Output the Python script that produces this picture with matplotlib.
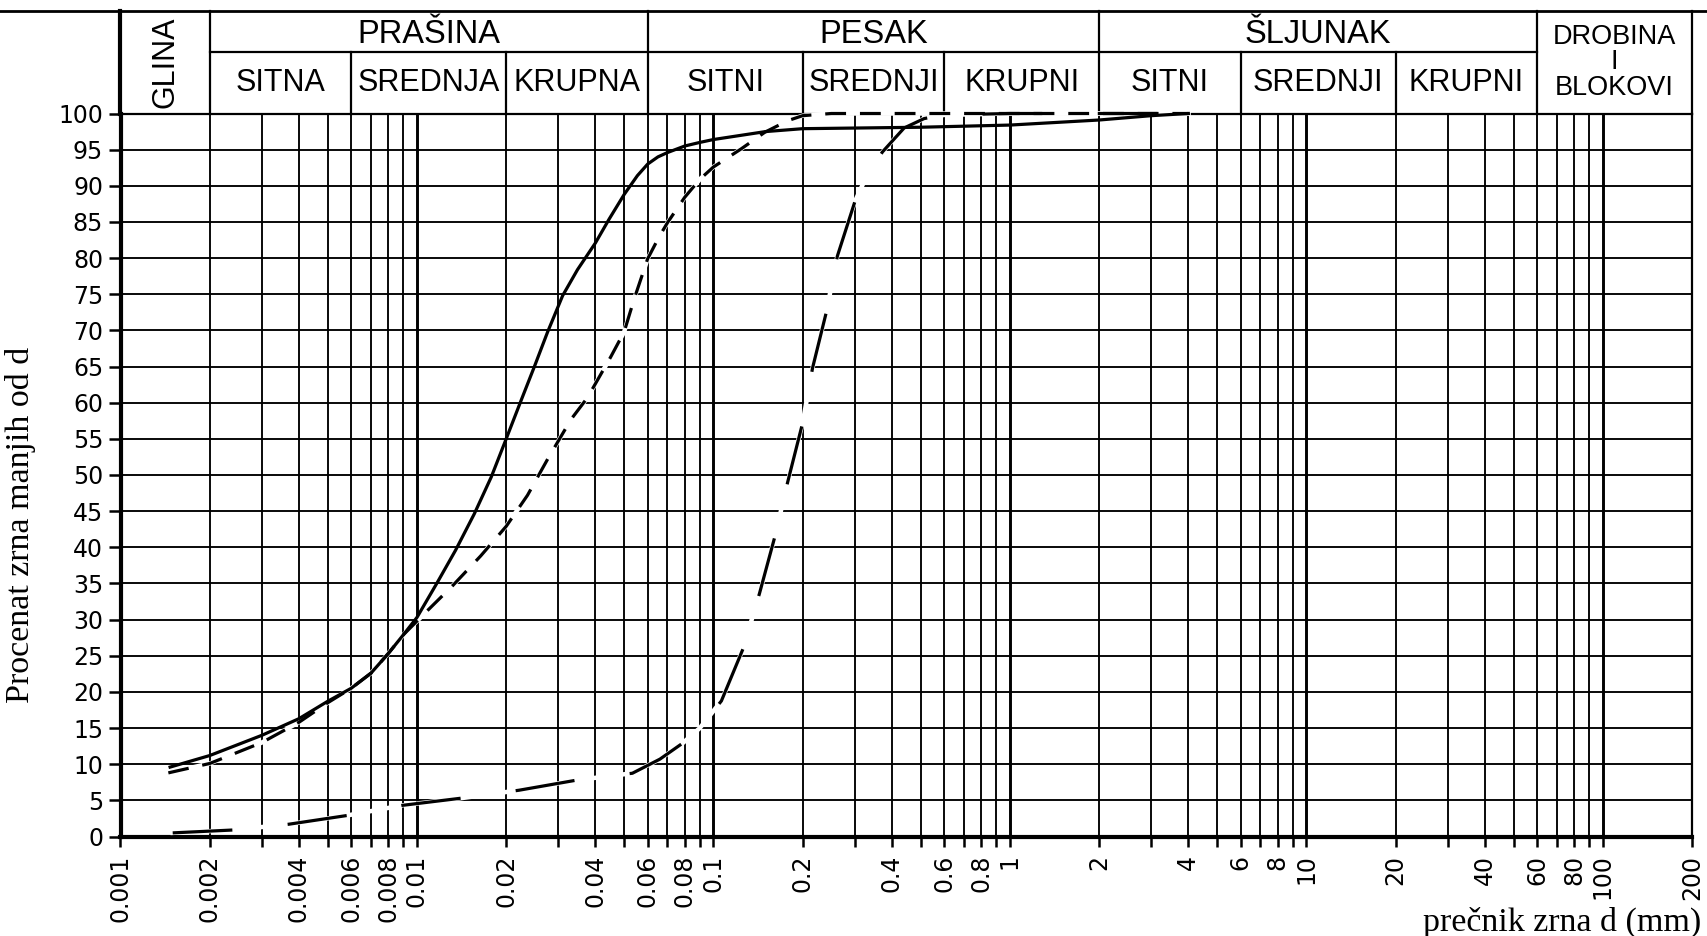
import matplotlib
matplotlib.use("Agg")
import matplotlib.pyplot as plt
from matplotlib.lines import Line2D
import numpy as np

# granulometric curves: grain diameter d (mm) vs percent finer
solid_d = [0.00147, 0.002, 0.003, 0.004, 0.005, 0.006, 0.007, 0.008, 0.009, 0.01,
           0.0117, 0.0135, 0.0156, 0.0178, 0.02, 0.0224, 0.0249, 0.0276, 0.031, 0.0348,
           0.04, 0.0445, 0.05, 0.0554, 0.06, 0.065, 0.07, 0.08, 0.09, 0.1, 0.15, 0.2,
           0.5, 1, 2, 3, 4]
solid_p = [9.6, 11.2, 14.0, 16.3, 18.7, 20.5, 22.6, 25.3, 27.9, 30.3,
           35.1, 39.6, 44.6, 49.7, 55.0, 60.2, 65.0, 69.8, 74.8, 78.4,
           82.1, 85.4, 88.8, 91.4, 93.0, 94.0, 94.6, 95.5, 96.0, 96.4, 97.5, 97.9,
           98.1, 98.4, 99.1, 99.7, 100]

dash_d = [0.00145, 0.002, 0.003, 0.004, 0.005, 0.006, 0.007, 0.008, 0.009, 0.0107,
          0.0132, 0.0164, 0.02, 0.0236, 0.0276, 0.0331, 0.0376, 0.045, 0.05, 0.054,
          0.06, 0.0655, 0.07, 0.08, 0.09, 0.1, 0.124, 0.149, 0.178, 0.2, 0.25, 0.5,
          1, 2, 4]
dash_p = [8.8, 10.1, 13.0, 15.8, 18.5, 20.5, 22.6, 25.3, 27.9, 31.0,
          34.7, 38.8, 42.9, 47.2, 52.2, 57.7, 60.7, 66.3, 69.8, 74.3,
          79.9, 82.9, 84.9, 88.4, 90.9, 92.6, 95.1, 97.4, 99.0, 99.7, 100, 100,
          100, 100, 100]

long_d = [0.0015, 0.0024, 0.0037, 0.0058, 0.0089, 0.0141, 0.0221, 0.0346, 0.0533, 0.066,
          0.0787, 0.09, 0.1064, 0.126, 0.143, 0.161, 0.178, 0.2, 0.216, 0.24,
          0.262, 0.3, 0.33, 0.372, 0.44, 0.514, 0.6, 1, 2, 4]
long_p = [0.5, 0.9, 1.7, 2.9, 4.3, 5.3, 6.4, 7.8, 8.75, 10.7,
          12.9, 15.0, 18.75, 26.0, 33.6, 41.4, 49.0, 57.2, 64.8, 72.4,
          80.3, 87.8, 91.5, 94.7, 98.0, 99.3, 99.8, 100, 100, 100]

# soil classification header
main_groups = [("PRAŠINA", 0.002, 0.06), ("PESAK", 0.06, 2), ("ŠLJUNAK", 2, 60)]
sub_groups = [("SITNA", 0.002, 0.006), ("SREDNJA", 0.006, 0.02), ("KRUPNA", 0.02, 0.06),
              ("SITNI", 0.06, 0.2), ("SREDNJI", 0.2, 0.6), ("KRUPNI", 0.6, 2),
              ("SITNI", 2, 6), ("SREDNJI", 6, 20), ("KRUPNI", 20, 60)]

x_ticks = [m * 10.0 ** e for e in range(-3, 2) for m in range(1, 10)] + [100, 200]
x_labels = ["0.001", "0.002", "0.004", "0.006", "0.008", "0.01", "0.02", "0.04", "0.06",
            "0.08", "0.1", "0.2", "0.4", "0.6", "0.8", "1", "2", "4", "6", "8", "10",
            "20", "40", "60", "80", "100", "200"]

plt.rcParams['lines.scale_dashes'] = False

W, H = 1707, 936
fig = plt.figure(figsize=(W / 100, H / 100), dpi=100)
ax_left, ax_right, ax_top, ax_bot = 120.5, 1692, 113.5, 836.5
ax = fig.add_axes([ax_left / W, (H - ax_bot) / H, (ax_right - ax_left) / W, (ax_bot - ax_top) / H])
ax.set_xscale('log')
ax.set_xlim(0.001, 200)
ax.set_ylim(0, 100)

# grid
for x in x_ticks:
    if x in (0.001, 200):
        continue
    decade = abs(np.log10(x) - round(np.log10(x))) < 1e-9
    ax.axvline(x, color='black', lw=2.1 if decade else 1.35, zorder=1)
for y in range(5, 100, 5):
    ax.axhline(y, color='black', lw=1.35, zorder=1)

# curves: white underlay, then black line
ax.plot(solid_d, solid_p, color='black', lw=2.3, zorder=5, clip_on=False,
        solid_joinstyle='round')
ax.plot(dash_d, dash_p, color='white', lw=3.2, zorder=3, clip_on=False)
ax.plot(dash_d, dash_p, color='black', lw=2.3, zorder=4, clip_on=False,
        dashes=(15, 10), dash_capstyle='butt')
ax.plot(long_d, long_p, color='white', lw=3.2, zorder=3, clip_on=False)
ax.plot(long_d, long_p, color='black', lw=2.3, zorder=4, clip_on=False,
        dashes=(43, 40), dash_capstyle='butt')

# ticks
ax.set_xticks(x_ticks)
ax.set_xticklabels([f"{t:g}" if f"{t:g}" in x_labels else "" for t in x_ticks],
                   rotation=90, fontsize=17, family='DejaVu Sans')
ax.xaxis.set_minor_locator(matplotlib.ticker.NullLocator())
ax.set_yticks(range(0, 101, 5))
ax.set_yticklabels([str(v) for v in range(0, 101, 5)], fontsize=17, family='DejaVu Sans')
ax.tick_params(axis='x', direction='out', length=7, width=1.8, pad=6)
ax.tick_params(axis='y', direction='out', length=8.5, width=1.8, pad=4)

ax.spines['left'].set_linewidth(3.0)
ax.spines['bottom'].set_linewidth(3.0)
ax.spines['top'].set_linewidth(1.6)
ax.spines['right'].set_linewidth(1.6)

# header table above the plot
trans = ax.get_xaxis_transform()
hdr_top = 1 + (ax_top - 11) / (ax_bot - ax_top)
hdr_mid = 1 + (ax_top - 52) / (ax_bot - ax_top)
hkw = dict(color='black', lw=1.6, transform=trans, clip_on=False)
ax.add_line(Line2D([0.002, 60], [hdr_mid, hdr_mid], **hkw))
for x in (0.001, 0.002, 0.06, 2, 60, 200):
    ax.add_line(Line2D([x, x], [1, hdr_top], **dict(hkw, lw=3.0 if x == 0.001 else 1.6)))
for _, lo, hi in sub_groups:
    if lo not in (0.002, 0.06, 2):
        ax.add_line(Line2D([lo, lo], [1, hdr_mid], **hkw))
fig.add_artist(Line2D([0, 1], [(H - 11) / H] * 2, color='black', lw=2.0,
                      transform=fig.transFigure))

font = dict(family='Liberation Sans', color='black', transform=trans, clip_on=False)
for name, lo, hi in main_groups:
    ax.text(np.sqrt(lo * hi), (hdr_top + hdr_mid) / 2 - 0.004, name, ha='center',
            va='center', fontsize=23.5, **font)
for name, lo, hi in sub_groups:
    ax.text(np.sqrt(lo * hi), (hdr_mid + 1) / 2, name, ha='center', va='center',
            fontsize=22, **font)
ax.text(np.sqrt(0.001 * 0.002), (hdr_top + 1) / 2, "GLINA", rotation=90,
        ha='center', va='center', fontsize=22, **font)
ax.text(np.sqrt(60 * 200), (hdr_top + 1) / 2, "DROBINA\nI\nBLOKOVI", ha='center',
        va='center', fontsize=19.5, linespacing=0.98, multialignment='center', **font)

# axis titles
fig.text(21 / W, (H - 525) / H, "Procenat zrna manjih od d", rotation=90,
         ha='center', va='center', fontsize=24.5, family='Liberation Serif')
fig.text(1701 / W, (H - 922) / H, "prečnik zrna d (mm)", ha='right', va='center',
         fontsize=24.5, family='Liberation Serif')

fig.savefig('out.png', dpi=100)
